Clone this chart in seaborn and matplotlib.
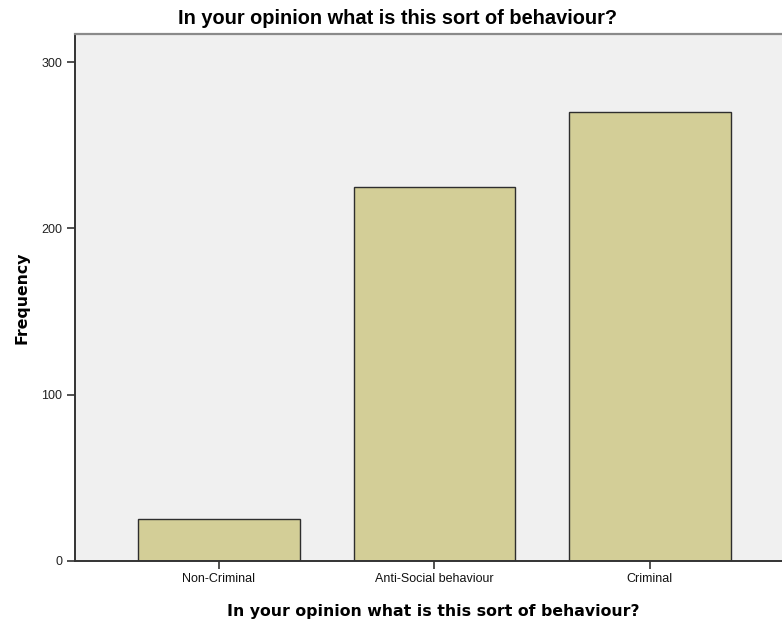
import matplotlib
matplotlib.use("Agg")
import matplotlib.pyplot as plt
import seaborn as sns
import pandas as pd

# data
categories = ["Non-Criminal", "Anti-Social behaviour", "Criminal"]
frequency = [25, 225, 270]
y_ticks = [0, 100, 200, 300]

title = "In your opinion what is this sort of behaviour?"

df = pd.DataFrame({"category": categories, "frequency": frequency})

sns.set_theme(style="white")
plt.rcParams["font.family"] = ["Liberation Sans", "DejaVu Sans"]

fig = plt.figure(figsize=(7.82, 6.22), dpi=100)
ax = fig.add_axes([75 / 782, 61.3 / 622, 1 - 75 / 782, (560.7 - 34) / 622])
ax.set_facecolor("#F0F0F0")

sns.barplot(data=df, x="category", y="frequency", order=categories,
            color="#D3CE97", saturation=1, width=0.75,
            edgecolor="#2E2E2E", linewidth=1.0, ax=ax)

ax.set_xlim(-0.668, 2.613)
ax.set_ylim(0, 317)
ax.set_yticks(y_ticks)
ax.set_yticklabels([str(v) for v in y_ticks], fontsize=9, color="#222222")
ax.set_xticks(range(len(categories)))
ax.set_xticklabels(categories, fontsize=9, color="#111111")
ax.tick_params(axis="both", direction="out", length=6, width=1.2,
               color="#333333", pad=3, left=True, bottom=True)

for side in ["left", "bottom"]:
    ax.spines[side].set_color("#333333")
    ax.spines[side].set_linewidth(1.4)
ax.spines["top"].set_color("#8A8A8A")
ax.spines["top"].set_linewidth(1.6)
ax.spines["right"].set_visible(False)

ax.set_xlabel(title, fontsize=11.3, fontweight="bold", color="#000000",
              family=["DejaVu Sans"])
ax.xaxis.set_label_coords(0.507, -0.083)
ax.set_ylabel("Frequency", fontsize=11.3, fontweight="bold", color="#000000",
              family=["DejaVu Sans"])
ax.yaxis.set_label_coords(-0.065, 0.5)

fig.text(397 / 782, 1 - 24 / 622, title, ha="center", va="baseline",
         fontsize=14.4, fontweight="bold", color="#000000")

fig.savefig("out.png", dpi=100)
